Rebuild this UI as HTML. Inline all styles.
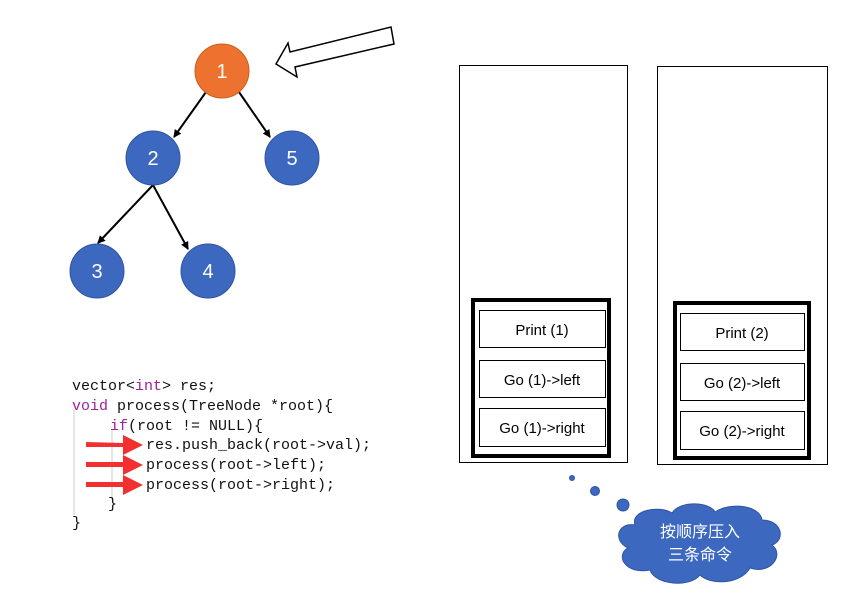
<!DOCTYPE html>
<html><head><meta charset="utf-8"><style>body{margin:0;background:#fff}svg{display:block}</style></head>
<body>
<svg width="859" height="597" xmlns="http://www.w3.org/2000/svg" font-family="Liberation Sans, sans-serif">
<defs><marker id="a" markerWidth="8" markerHeight="8" refX="7" refY="4" orient="auto" markerUnits="userSpaceOnUse"><path d="M0,0 L8,4 L0,8 z" fill="#000"/></marker></defs>
<g stroke="#000" stroke-width="2">
<line x1="206" y1="92" x2="174" y2="137" marker-end="url(#a)"/>
<line x1="239" y1="92" x2="270" y2="137" marker-end="url(#a)"/>
<line x1="153" y1="185" x2="98" y2="243" marker-end="url(#a)"/>
<line x1="153" y1="185" x2="188" y2="249" marker-end="url(#a)"/>
</g>
<circle cx="222" cy="71" r="27" fill="#ed7230" stroke="#c8601f"/>
<g fill="#3c69bf" stroke="#2f54a0"><circle cx="153" cy="158" r="27"/><circle cx="292" cy="158" r="27"/><circle cx="97" cy="271" r="27"/><circle cx="208" cy="271" r="27"/></g>
<g fill="#fff" font-size="20" text-anchor="middle"><text x="222" y="78">1</text><text x="153" y="165">2</text><text x="292" y="165">5</text><text x="97" y="278">3</text><text x="208" y="278">4</text></g>
<polygon points="276,64 288,43 290,52 391,27 394,44 295,67 297,77" fill="#fff" stroke="#000" stroke-width="1.5"/>
<g fill="none" stroke="#000"><rect x="459.5" y="65.5" width="168" height="397"/><rect x="657.5" y="66.5" width="170" height="398"/></g>
<g fill="none" stroke="#000" stroke-width="4"><rect x="473" y="300" width="136" height="156"/><rect x="675" y="303" width="134" height="155"/></g>
<g fill="#fff" stroke="#000"><rect x="479.5" y="310.5" width="126" height="37"/><rect x="479.5" y="360.5" width="126" height="37"/><rect x="479.5" y="408.5" width="126" height="38"/><rect x="680.5" y="313.5" width="124" height="37"/><rect x="680.5" y="363.5" width="124" height="37"/><rect x="680.5" y="411.5" width="124" height="38"/></g>
<g font-size="15" text-anchor="middle" fill="#000"><text x="542" y="335">Print (1)</text><text x="542" y="385">Go (1)-&gt;left</text><text x="542" y="433">Go (1)-&gt;right</text><text x="742" y="338">Print (2)</text><text x="742" y="388">Go (2)-&gt;left</text><text x="742" y="436">Go (2)-&gt;right</text></g>
<g stroke="#ccc"><line x1="74" y1="410" x2="74" y2="515"/><line x1="112" y1="430" x2="112" y2="500"/></g>
<g font-family="Liberation Mono, monospace" font-size="15" fill="#111">
<text x="72" y="390">vector&lt;<tspan fill="#a0209a">int</tspan>&gt; res;</text>
<text x="72" y="410"><tspan fill="#a0209a">void</tspan> process(TreeNode *root){</text>
<text x="110" y="430"><tspan fill="#a0209a">if</tspan>(root != NULL){</text>
<text x="146" y="449">res.push_back(root-&gt;val);</text>
<text x="146" y="469">process(root-&gt;left);</text>
<text x="146" y="489">process(root-&gt;right);</text>
<text x="108" y="508">}</text>
<text x="72" y="527">}</text>
</g>
<g fill="#f23030">
<polygon points="86,442 123,443 123,435 143,445 123,455 123,447 86,447"/>
<polygon points="86,462 123,462 123,455 143,465 123,475 123,467 86,467"/>
<polygon points="86,482 123,482 123,475 143,485 123,495 123,487 86,487"/>
</g>
<g fill="#3c69bf" stroke="#2f54a0"><circle cx="572" cy="478" r="2.5"/><circle cx="595" cy="491" r="4.5"/><circle cx="623" cy="505" r="6"/>
<path d="M635,525 C630,510 660,505 672,513 C680,500 710,502 715,512 C730,502 760,505 762,520 C782,520 786,540 772,545 C785,555 770,575 750,568 C740,585 710,585 700,575 C690,588 655,585 650,570 C625,575 615,555 628,548 C612,540 618,522 635,525 z"/></g>
<g fill="#fff" font-size="16" text-anchor="middle" font-family="Liberation Sans, Noto Sans CJK SC, sans-serif"><text x="700" y="537">按顺序压入</text><text x="700" y="560">三条命令</text></g>
</svg>
</body></html>
